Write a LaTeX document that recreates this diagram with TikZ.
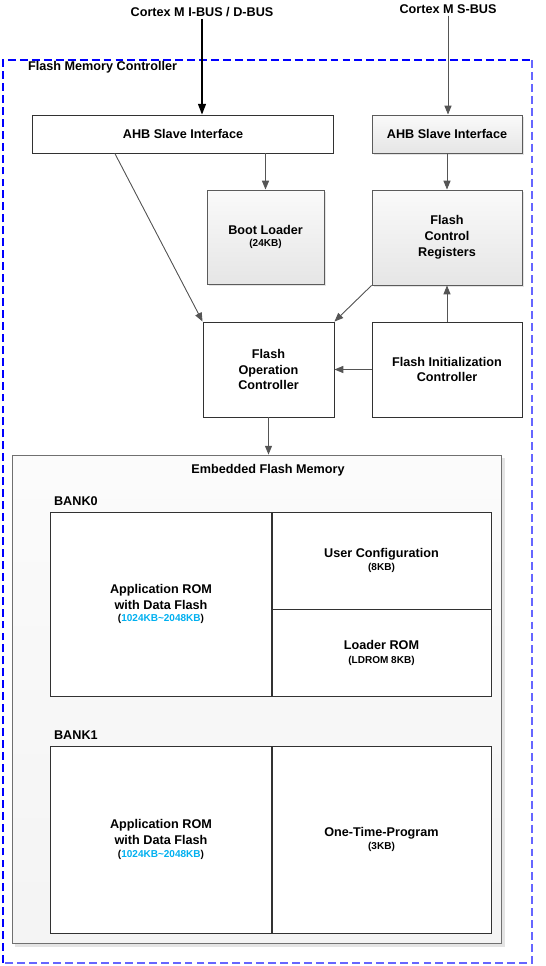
\documentclass[tikz,border=0pt]{standalone}
\usepackage{fontspec}
\setmainfont{Liberation Sans}
\usetikzlibrary{calc}
\usetikzlibrary{positioning}
\usetikzlibrary{shadows}
\usetikzlibrary{arrows.meta}
\definecolor{sizeblue}{RGB}{0,176,240}
\definecolor{edge}{RGB}{50,50,50}
\definecolor{arrowgray}{RGB}{85,85,85}
\newcommand{\kb}[1]{{\fontsize{5.7}{7}\selectfont #1}}

\begin{document}
\begin{tikzpicture}[
		x=0.02cm, y=-0.02cm,
		font=\fontsize{7.2}{9}\selectfont\bfseries,
		wbox/.style = {rectangle, draw=edge, line width=0.55pt, fill=white, align=center, inner sep=0pt},
		gbox/.style = {rectangle, draw=edge!80, line width=0.55pt, top color=gray!4, bottom color=gray!20, align=center, inner sep=0pt,
			drop shadow={shadow xshift=1.2pt, shadow yshift=-1.2pt, opacity=0.3, fill=gray!70}},
		mbox/.style = {rectangle, draw=edge!70, line width=0.55pt, top color=gray!3, bottom color=gray!9, inner sep=0pt,
			drop shadow={shadow xshift=1.5pt, shadow yshift=-1.5pt, opacity=0.3, fill=gray!70}},
		txt/.style  = {inner sep=1pt},
		r/.style    = {-{Triangle[length=5pt, width=4pt]}, draw=arrowgray, fill=arrowgray, line width=0.5pt},
		rb/.style   = {-{Triangle[length=6pt, width=4.5pt]}, draw=black, fill=black, line width=0.6pt}
		]
		\useasboundingbox (0,0) rectangle (545,966);
		
		%Controller frame
		\coordinate (fmcTL) at (3,60);
		\coordinate (fmcBR) at (532,963);
		\draw[blue, line width=0.6pt, dash pattern=on 4.5pt off 2.3pt] (fmcTL |- fmcBR) -- (fmcTL) -- (fmcTL -| fmcBR);
		\draw[blue!60, line width=0.6pt, dash pattern=on 4.5pt off 2.3pt] (fmcTL -| fmcBR) -- (fmcBR) -- (fmcTL |- fmcBR);
		\node[txt, anchor=west]	(fmc)	at	(26,67)		{Flash Memory Controller};
		
		%Buses
		\node[txt]	(cmI)	at	(202,12)	{Cortex M I-BUS / D-BUS};
		\node[txt]	(cmS)	at	(448,9)		{Cortex M S-BUS};
		
		%Nodes
		\node[wbox, minimum width=6.04cm, minimum height=0.76cm]	(ahbI)	at	(183,134)		{AHB Slave Interface};
		\node[gbox, minimum width=3cm,    minimum height=0.76cm]	(ahbS)	at	(447,134)		{AHB Slave Interface};
		\node[gbox, minimum width=2.34cm, minimum height=1.88cm]	(boot)	at	(265.5,237)		{Boot Loader\\[-2pt]\kb{(24KB)}};
		\node[gbox, minimum width=3cm,    minimum height=1.9cm]		(fcr)	at	(447,237.5)		{Flash\\Control\\Registers};
		\node[wbox, minimum width=2.62cm, minimum height=1.9cm]		(foc)	at	(268.5,369.5)	{Flash\\Operation\\Controller};
		\node[wbox, minimum width=3cm,    minimum height=1.9cm]		(fic)	at	(447,369.5)		{Flash Initialization\\Controller};
		
		%Embedded flash
		\node[mbox, minimum width=9.8cm, minimum height=9.78cm]	(efm)	at	(257,699.5)	{};
		\node[txt]	(efmT)	at	(268,470)	{Embedded Flash Memory};
		
		\node[txt, anchor=west]	(bank0)	at	(52,501)	{BANK0};
		\node[wbox, minimum width=4.44cm, minimum height=3.68cm]	(app0)	at	(161,604)		{Application ROM\\with Data Flash\\[-2pt]\kb{(\textcolor{sizeblue}{1024KB\textasciitilde2048KB})}};
		\node[wbox, minimum width=4.38cm, minimum height=1.94cm]	(ucfg)	at	(381.5,560.5)	{User Configuration\\[-2pt]\kb{(8KB)}};
		\node[wbox, minimum width=4.38cm, minimum height=1.74cm]	(ldrom)	at	(381.5,652.5)	{Loader ROM\\[-1pt]\kb{(LDROM 8KB)}};
		
		\node[txt, anchor=west]	(bank1)	at	(52,735)	{BANK1};
		\node[wbox, minimum width=4.44cm, minimum height=3.74cm]	(app1)	at	(161,839.5)		{Application ROM\\with Data Flash\\[-2pt]\kb{(\textcolor{sizeblue}{1024KB\textasciitilde2048KB})}};
		\node[wbox, minimum width=4.38cm, minimum height=3.74cm]	(otp)	at	(381.5,839.5)	{One-Time-Program\\[-2pt]\kb{(3KB)}};
		
		%Lines
		\draw[rb]	(cmI.south)		to	(cmI.south |- ahbI.north);
		\draw[r]	(cmS.south)		to	(cmS.south |- ahbS.north);
		\draw[r]	(boot.north |- ahbI.south)	to	(boot.north);
		\draw[r]	(ahbS.south)	to	(fcr.north);
		\draw[r]	($(ahbI.south west)!0.275!(ahbI.south east)$)	to	(foc.north west);
		\draw[r]	(fcr.south west)	to	(foc.north east);
		\draw[r]	(fic.north)		to	(fcr.south);
		\draw[r]	(fic.west)		to	(foc.east);
		\draw[r]	(foc.south)		to	(foc.south |- efm.north);
	\end{tikzpicture}
\end{document}
